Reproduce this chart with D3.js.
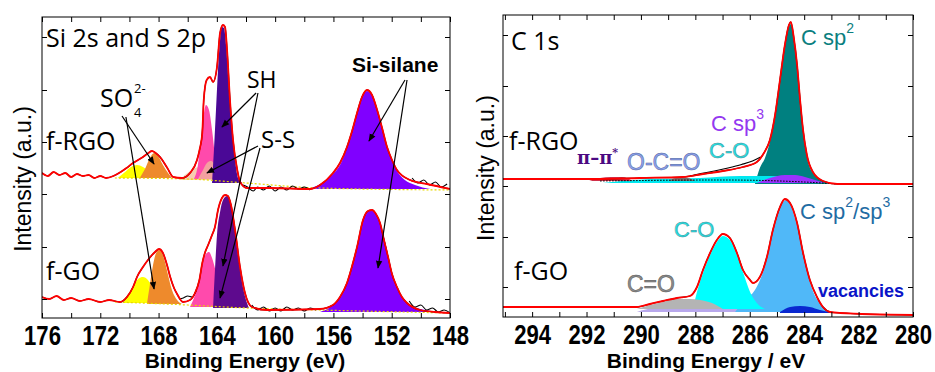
<!DOCTYPE html>
<html>
<head>
<meta charset="utf-8">
<script src="https://cdn.jsdelivr.net/npm/d3@7"></script>
<style>
  body { margin: 0; background: #fff; }
  svg { display: block; }
</style>
</head>
<body>
<svg id="chart" width="935" height="372"></svg>
<script>
// ---- Si 2s / S 2p panel, values as [binding energy eV, intensity a.u.] ----
const rgoS2p = [[176,145],[175.6,142],[175.2,146],[174.8,143],[174.4,145],[174,141],[173.6,144],[173.2,142],[172.8,143],[172.4,140],[172,142],[171.6,140],[171.1,142],[170.6,146],[170.2,150],[169.75,155],[169.07,161],[168.7,165],[168.45,167],[168.2,165],[167.9,161],[167.4,150],[167.0,141],[166.4,140],[165.84,145],[165.36,158],[165.16,170],[165.0,185],[164.9,218],[164.7,238],[164.47,241],[164.26,236],[163.99,251],[163.78,285],[163.58,293],[163.44,291],[163.3,268],[163.1,218],[162.89,178],[162.6,148],[162.4,136],[161.93,130],[160.35,130],[157.6,129],[156.92,133],[156.03,145],[155.55,155],[155.07,171],[154.7,188],[154.38,205],[154.04,221],[153.7,228],[153.35,223],[153.0,208],[152.66,190],[152.32,171],[151.98,158],[151.64,148],[150.74,138],[149.58,134],[148,129]];
const rgoSO4a = [[170.8,140],[170.3,146],[169.9,151],[169.48,153],[169.07,151],[168.6,146],[168.1,140]];
const rgoSO4b = [[169.3,140],[168.9,150],[168.6,160],[168.3,165],[168.04,162],[167.7,153],[167.35,145],[167.08,140]];
const rgoSSa = [[166.5,139],[166.2,143],[165.84,147],[165.5,150],[165.16,151],[164.8,148],[164.47,142],[164.2,138]];
const rgoSHa = [[165.57,139],[165.3,153],[165.1,178],[164.9,203],[164.75,213],[164.54,208],[164.33,188],[164.13,163],[163.92,146],[163.65,139]];
const rgoSSb = [[165.3,139],[164.95,148],[164.68,155],[164.4,157],[164.13,153],[163.85,146],[163.58,139]];
const rgoSHb = [[164.33,135],[164.2,168],[164.06,208],[163.92,248],[163.78,278],[163.65,291],[163.51,290],[163.37,273],[163.17,228],[162.96,188],[162.75,158],[162.55,140],[162.27,135]];
const rgoSi = [[157.8,129],[156.9,134],[156.03,144],[155.55,153],[155.07,170],[154.7,187],[154.38,204],[154.04,220],[153.7,227],[153.35,222],[153.0,207],[152.66,189],[152.32,170],[151.98,157],[151.64,147],[151.1,138],[150.4,133],[149.37,129]];
const rgoBase = [[171,140],[166,139],[162,135],[157,130],[148,128]];
const rgoNoise = [[[162.2,133],[161.9,131],[161.5,127],[161.2,131],[160.8,128],[160.4,132],[160,127],[159.6,131],[159.2,128],[158.8,132],[158.4,129],[158,131],[157.6,128]],
                  [[150.6,140],[150.2,135],[149.8,138],[149.4,133],[149,136],[148.6,131],[148.2,134]]];

const goS2p = [[176,21],[175.5,19],[175,22],[174.5,18],[174,20],[173.4,17],[172.8,19],[172,16],[171.4,18],[170.65,16],[170.17,21],[169.75,31],[169.48,41],[169.07,51],[168.73,58],[168.45,63],[168.24,66],[167.97,69],[167.7,65],[167.42,53],[167.2,41],[166.94,30],[166.73,24],[166.32,16],[165.84,18],[165.5,25],[165.2,38],[165.0,55],[164.8,66],[164.6,73],[164.33,83],[164.13,91],[163.92,108],[163.65,120],[163.44,123],[163.24,122],[163.03,113],[162.75,88],[162.41,51],[162.07,25],[161.59,11],[160.56,8],[156.92,9],[156.03,13],[155.55,21],[155.07,35],[154.7,53],[154.38,71],[153.97,98],[153.63,107],[153.35,108],[153.08,104],[152.8,95],[152.53,78],[152.25,61],[151.98,44],[151.64,31],[151.3,21],[150.95,15],[150.06,8],[149.03,6],[148,5]];
const goSO4a = [[170.44,15],[170.1,23],[169.75,32],[169.4,39],[169.07,41],[168.73,38],[168.38,30],[168.04,22],[167.7,15]];
const goSO4b = [[168.8,14],[168.6,33],[168.38,53],[168.17,65],[167.97,68],[167.76,65],[167.56,56],[167.35,43],[167.08,28],[166.73,18],[166.4,14]];
const goSS = [[165.84,11],[165.5,23],[165.2,38],[164.95,56],[164.75,64],[164.54,66],[164.33,60],[164.06,46],[163.78,30],[163.44,18],[162.96,11]];
const goSH = [[164.26,10],[164.13,48],[163.99,83],[163.78,106],[163.58,118],[163.3,122],[163.1,118],[162.89,103],[162.69,78],[162.41,48],[162.14,26],[161.8,10]];
const goSi = [[156.92,6],[156.03,13],[155.55,21],[155.07,35],[154.7,52],[154.38,70],[154.04,93],[153.7,106],[153.35,108],[153.0,102],[152.66,88],[152.32,68],[151.98,46],[151.64,31],[151.22,20],[150.74,13],[149.7,8],[148.7,6]];
const goBase = [[171,16],[166,13],[162,10],[157,8],[148,5]];
const goNoise = [[[166.6,19],[166.3,20],[166,22],[165.7,21],[165.4,28]],
                 [[161.6,13],[161.2,8],[160.8,11],[160.4,7],[160,10],[159.6,7],[159.2,11],[158.8,8],[158.4,10],[158,7],[157.6,10],[157.2,8]],
                 [[150.8,17],[150.4,11],[150,13],[149.6,8],[149.2,10],[148.8,6],[148.4,8],[148,5]]];

// ---- C 1s panel ----
const rgoC1s = [[295.07,138],[293.7,138],[291.5,138],[290.04,139],[288.46,140],[287.72,143],[286.99,146],[286.25,150],[285.74,155],[285.48,164],[285.26,177],[285.07,202],[284.89,237],[284.71,272],[284.56,292],[284.49,295],[284.38,279],[284.26,252],[284.15,217],[284.04,187],[283.9,162],[283.68,145],[283.31,136],[282.79,133],[281.95,133],[280,133]];
const rgoCsp2 = [[285.81,133],[285.63,149],[285.44,159],[285.26,175],[285.07,200],[284.89,235],[284.71,270],[284.56,290],[284.49,293],[284.38,277],[284.26,250],[284.15,215],[284.04,185],[283.9,160],[283.68,144],[283.31,136],[282.87,133]];
const rgoCO = [[291.4,134],[289.67,138],[287.83,139],[286.36,141],[285.26,141],[284.34,140],[283.79,137],[283.31,134]];
const rgoCsp3 = [[285.74,134],[285.26,139],[284.71,142],[284.34,142],[283.97,140],[283.6,137],[283.24,134]];
const rgoPi = [[291.9,136],[291.5,139],[291.1,140],[290.7,140],[290.3,136]];
const rgoOCO = [[289.0,136],[288.7,139],[288.3,139],[288.0,136]];
const rgoCBase = [[291.5,136],[287,137],[284,135],[282.8,133]];
const rgoCNoise = [[[288.2,141],[287.8,143.5],[287.3,146],[286.8,149],[286.3,152.5],[285.9,156],[285.6,160]]];

const goC1s = [[295.07,10],[291.5,10],[290.15,10],[289.67,13],[289.19,16],[288.68,19],[288.2,21],[287.94,30],[287.72,47],[287.46,64],[287.21,77],[286.99,83],[286.73,79],[286.47,64],[286.25,47],[285.99,37],[285.88,34],[285.63,40],[285.37,60],[285.15,87],[284.89,110],[284.71,118],[284.52,114],[284.26,94],[284.04,64],[283.79,37],[283.53,20],[283.31,10],[283.05,5],[282.68,4],[280,2]];
const goLav = [[290.15,5],[289.5,9],[287.83,10],[285.63,10],[284.15,9],[283.05,5]];
const goCO2 = [[290.15,8],[289.67,12],[289.19,15],[288.68,18],[288.2,18],[287.83,17],[287.39,14],[286.99,8]];
const goCO = [[288.09,8],[287.94,25],[287.72,44],[287.46,62],[287.21,75],[286.99,81],[286.73,77],[286.47,62],[286.25,45],[285.99,25],[285.74,14],[285.44,8]];
const goCsp = [[286.54,5],[286.18,17],[285.81,27],[285.55,42],[285.33,62],[285.15,85],[284.96,104],[284.78,115],[284.67,117],[284.52,113],[284.34,99],[284.15,79],[283.97,55],[283.79,35],[283.6,21],[283.35,12],[283.05,5]];
const goVac = [[284.89,5],[284.52,10],[284.15,11],[283.79,10],[283.42,7],[282.94,4]];

// ticks
const xTicksL = d3.range(148, 177, 2);
const xLabelsL = [176, 172, 168, 164, 160, 156, 152, 148];
const yTicksL = [19, 71, 124, 176, 228, 281];
const xTicksR = d3.range(280, 296, 1);
const xLabelsR = [294, 292, 290, 288, 286, 284, 282, 280];
const yTicksR = [30, 80, 131, 181, 231, 282];

// annotation arrows in data units: [from, to]
const arrowsL = [
  [[170.51,202],[168.31,154]], [[170.24,201],[168.31,29]],
  [[161.31,225],[163.65,191]], [[161.18,225],[163.58,52]],
  [[161.18,172],[164.68,145]], [[161.04,170],[163.78,20]],
  [[151.09,238],[153.56,177]], [[150.95,238],[152.94,50]]
];

const svg = d3.select("#chart");
const defs = svg.append("defs");
defs.append("marker").attr("id", "ah").attr("viewBox", "0 0 10 10")
  .attr("refX", 9).attr("refY", 5).attr("markerWidth", 8).attr("markerHeight", 8)
  .attr("markerUnits", "userSpaceOnUse").attr("orient", "auto")
  .append("path").attr("d", "M0,1 L10,5 L0,9 z").attr("fill", "#000");

const xL = d3.scaleLinear().domain([176, 148]).range([42, 450]);
const yL = d3.scaleLinear().domain([0, 301]).range([318, 17]);
const xR = d3.scaleLinear().domain([295.07, 280]).range([503, 913]);
const yR = d3.scaleLinear().domain([0, 302]).range([317, 15]);

function clip(id, x, y) {
  defs.append("clipPath").attr("id", id).append("rect")
    .attr("x", x.range()[0]).attr("y", y.range()[1])
    .attr("width", x.range()[1] - x.range()[0]).attr("height", y.range()[0] - y.range()[1]);
  return svg.append("g").attr("clip-path", `url(#${id})`);
}

function fillPeak(g, x, y, pts, color) {
  const base = Math.min(pts[0][1], pts[pts.length - 1][1]);
  const area = d3.area().x(d => x(d[0])).y0(y(base)).y1(d => y(d[1])).curve(d3.curveMonotoneX);
  g.append("path").attr("d", area(pts)).attr("fill", color);
}

function strokeLine(g, x, y, pts, color, w, dash) {
  const line = d3.line().x(d => x(d[0])).y(d => y(d[1])).curve(d3.curveMonotoneX);
  g.append("path").attr("d", line(pts)).attr("fill", "none")
    .attr("stroke", color).attr("stroke-width", w)
    .attr("stroke-dasharray", dash || null);
}

function axes(x, y, xTicks, xLabels, yTicks) {
  const [x0, x1] = x.range();
  const [y1, y0] = y.range();
  const bottom = svg.append("g").attr("transform", `translate(0,${y1})`)
    .call(d3.axisBottom(x).tickValues(xTicks).tickSizeInner(-5).tickSizeOuter(0).tickPadding(8)
      .tickFormat(d => xLabels.includes(d) ? d : ""));
  bottom.selectAll("text")
    .attr("font-family", "'Liberation Sans', Arial, sans-serif")
    .attr("font-weight", "bold").attr("font-size", 27).attr("fill", "#000")
    .attr("transform", "scale(0.82,1)");
  svg.append("g").attr("transform", `translate(0,${y0})`)
    .call(d3.axisTop(x).tickValues(xTicks).tickSizeInner(-5).tickSizeOuter(0).tickFormat(""));
  svg.append("g").attr("transform", `translate(${x0},0)`)
    .call(d3.axisLeft(y).tickValues(yTicks).tickSizeInner(-5).tickSizeOuter(0).tickFormat(""));
  svg.append("g").attr("transform", `translate(${x1},0)`)
    .call(d3.axisRight(y).tickValues(yTicks).tickSizeInner(-5).tickSizeOuter(0).tickFormat(""));
  svg.selectAll(".domain").remove();
  svg.append("rect").attr("x", x0).attr("y", y0).attr("width", x1 - x0).attr("height", y1 - y0)
    .attr("fill", "none").attr("stroke", "#000").attr("stroke-width", 1);
}

function label(txt, x, y, opts) {
  const t = svg.append("text").attr("x", x).attr("y", y)
    .attr("font-family", opts.font || "'Open Sans', sans-serif")
    .attr("font-size", opts.size || 25)
    .attr("font-weight", opts.weight || "normal")
    .attr("fill", opts.fill || "#000");
  if (opts.stroke) t.attr("stroke", opts.stroke).attr("stroke-width", opts.sw || 0.6);
  if (opts.anchor) t.attr("text-anchor", opts.anchor);
  if (opts.rotate) t.attr("transform", `rotate(-90,${x},${y})`);
  if (Array.isArray(txt)) {
    txt.forEach(p => {
      const s = t.append("tspan").text(p.t);
      if (p.dy) s.attr("dy", p.dy);
      if (p.size) s.attr("font-size", p.size);
    });
  } else t.text(txt);
  return t;
}

// ---------- left panel ----------
const gL = clip("clipL", xL, yL);
const leftPeaks = [
  [rgoSO4a, "#ffff00"], [rgoSO4b, "#ee8a2c"], [rgoSSa, "#f7cdb0"], [rgoSHa, "#ff4aac"],
  [rgoSSb, "#f4a0a0"], [rgoSHb, "#4a0896"], [rgoSi, "#8000ff"],
  [goSO4a, "#ffff00"], [goSO4b, "#ee8a2c"], [goSS, "#ff4aac"], [goSH, "#5e0a8e"], [goSi, "#8000ff"]
];
leftPeaks.forEach(([p, c]) => fillPeak(gL, xL, yL, p, c));
strokeLine(gL, xL, yL, rgoBase, "#e8d800", 1.2, "2,2");
strokeLine(gL, xL, yL, goBase, "#e8d800", 1.2, "2,2");
rgoNoise.concat(goNoise).forEach(p => strokeLine(gL, xL, yL, p, "#000", 1.1));
strokeLine(gL, xL, yL, rgoS2p, "#000", 1.2);
strokeLine(gL, xL, yL, goS2p, "#000", 1.2);
strokeLine(gL, xL, yL, rgoS2p, "#ff0000", 1.8);
strokeLine(gL, xL, yL, goS2p, "#ff0000", 1.8);

arrowsL.forEach(([a, b]) => {
  svg.append("line").attr("x1", xL(a[0])).attr("y1", yL(a[1]))
    .attr("x2", xL(b[0])).attr("y2", yL(b[1]))
    .attr("stroke", "#000").attr("stroke-width", 1.2).attr("marker-end", "url(#ah)");
});

axes(xL, yL, xTicksL, xLabelsL, yTicksL);

const arial = "'Liberation Sans', Arial, sans-serif";
label("Si 2s and S 2p", 46, 47, {size: 25});
label("f-RGO", 46, 150, {size: 25});
label("f-GO", 46, 280, {size: 25});
label("SO", 100, 107, {size: 25});
label("2-", 134, 93, {size: 13});
label("4", 134, 117, {size: 13});
label("SH", 247, 88, {size: 23});
label("S-S", 261, 148, {size: 24});
label("Si-silane", 352, 72, {size: 21, weight: "bold", font: arial});
label("Binding Energy (eV)", 245, 368, {size: 21, weight: "bold", anchor: "middle", font: arial});
label("Intensity (a.u.)", 31, 179, {size: 23, anchor: "middle", rotate: true, font: arial});

// ---------- right panel ----------
const gR = clip("clipR", xR, yR);
const rightPeaks = [
  [rgoCsp2, "#008080"], [rgoCO, "#00e8f0"], [rgoCsp3, "#9933ff"], [rgoPi, "#d0304a"], [rgoOCO, "#707070"],
  [goLav, "#b8a8ec"], [goCsp, "#50b8f8"], [goCO, "#00ffff"], [goCO2, "#b4b4b4"], [goVac, "#0a28d0"]
];
rightPeaks.forEach(([p, c]) => fillPeak(gR, xR, yR, p, c));
strokeLine(gR, xR, yR, rgoCBase, "#000", 1, "1.5,1.5");
rgoCNoise.forEach(p => strokeLine(gR, xR, yR, p, "#000", 1.1));
strokeLine(gR, xR, yR, rgoC1s, "#000", 1.2);
strokeLine(gR, xR, yR, goC1s, "#000", 1.2);
strokeLine(gR, xR, yR, rgoC1s, "#ff0000", 1.8);
strokeLine(gR, xR, yR, goC1s, "#ff0000", 1.8);

axes(xR, yR, xTicksR, xLabelsR, yTicksR);

label("C 1s", 511, 50, {size: 25});
label("f-RGO", 509, 150, {size: 25});
label("f-GO", 514, 280, {size: 25});
label([{t: "C sp"}, {t: "2", dy: -12, size: 14}], 801, 45, {size: 22, fill: "#0b7f80", font: arial});
label([{t: "C sp"}, {t: "3", dy: -12, size: 14}], 711, 131, {size: 22, fill: "#9438f0", font: arial});
label("C-O", 709, 158, {size: 22, fill: "#20e4e4", stroke: "#4c8c98", sw: 0.5, font: arial});
label("O-C=O", 627, 170, {size: 23, fill: "#8ca2ee", stroke: "#50649a", sw: 0.5, font: arial});
label([{t: "\u03c0\u2013\u03c0"}, {t: "*", dy: -8, size: 11}], 577, 164, {size: 18, weight: "bold", fill: "#4b0a82", font: "'DejaVu Serif', serif"});
label("C-O", 674, 237, {size: 22, fill: "#20e4e4", stroke: "#4c8c98", sw: 0.5, font: arial});
label("C=O", 627, 292, {size: 23, fill: "#8c8c8c", stroke: "#555", sw: 0.5, font: arial});
label([{t: "C sp"}, {t: "2", dy: -12, size: 14}, {t: "/sp", dy: 12}, {t: "3", dy: -12, size: 14}], 800, 219, {size: 22, fill: "#1f6ca3", font: arial});
label("vacancies", 818, 297, {size: 18, weight: "bold", fill: "#0a14c8", font: arial});
label("Binding Energy / eV", 706, 368, {size: 21, weight: "bold", anchor: "middle", font: arial});
label("Intensity (a.u.)", 494, 168, {size: 23, anchor: "middle", rotate: true, font: arial});
</script>
</body>
</html>
